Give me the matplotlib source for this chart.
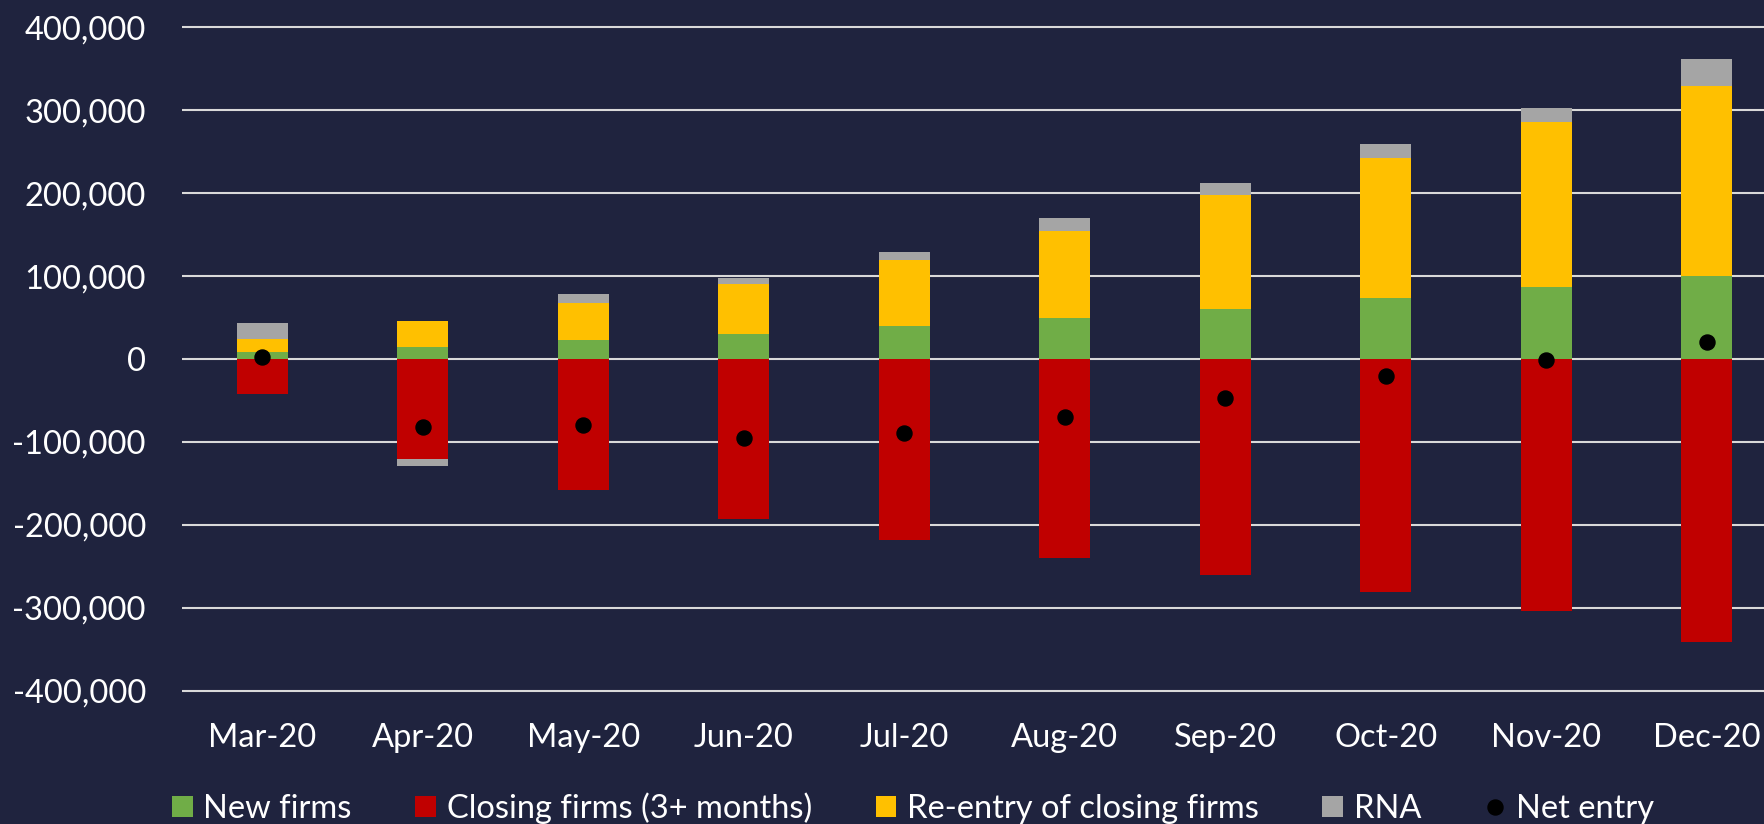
"""Firm entry and exit by month (stacked bars with net-entry dots)."""

import matplotlib
matplotlib.use("Agg")
import matplotlib.pyplot as plt
import numpy as np
from matplotlib.patches import Patch
from matplotlib.lines import Line2D
from matplotlib.ticker import FuncFormatter

months = ["Mar-20", "Apr-20", "May-20", "Jun-20", "Jul-20",
          "Aug-20", "Sep-20", "Oct-20", "Nov-20", "Dec-20"]
new_firms = [9000, 15000, 22500, 30000, 40000, 49000, 60000, 73500, 87000, 100000]
reentry = [15000, 31000, 45500, 61000, 80000, 105500, 137500, 169000, 199000, 229500]
rna = [19000, -7500, 10000, 7000, 9000, 15000, 15000, 17000, 17000, 32000]
closing = [-42000, -121000, -157500, -193000, -218000, -240500, -260500,
           -281000, -304000, -341500]
net_entry = [2000, -81500, -80000, -95000, -89500, -70500, -47500, -21000, -1000, 20500]

BG = "#1F233E"
GREEN, RED, YELLOW, GREY = "#70AD47", "#C00000", "#FFC000", "#A5A5A5"
FS = 23.5

plt.rcParams["font.family"] = ["Lato", "DejaVu Sans"]

fig = plt.figure(figsize=(17.65, 8.24), dpi=100, facecolor=BG)
ax = fig.add_axes([182 / 1765, 0.1568, 1 - 182 / 1765, 0.9718 - 0.1568])
ax.set_facecolor(BG)

x = np.arange(len(months))
w = 0.316
new = np.array(new_firms)
re = np.array(reentry)
r = np.array(rna)
cl = np.array(closing)

ax.bar(x, new, w, color=GREEN, zorder=2)
ax.bar(x, re, w, bottom=new, color=YELLOW, zorder=2)
rna_bottom = np.where(r >= 0, new + re, cl)
ax.bar(x, r, w, bottom=rna_bottom, color=GREY, zorder=2)
ax.bar(x, cl, w, color=RED, zorder=2)
ax.scatter(x, net_entry, s=117, color="black", zorder=3)

ax.set_xlim(-0.5, 9.363)
ax.set_ylim(-405000, 405000)
ax.set_yticks(np.arange(-400000, 400001, 100000))
ax.yaxis.set_major_formatter(FuncFormatter(lambda v, _: f"{int(v):,}"))
ax.set_xticks(x)
ax.set_xticklabels(months)
ax.tick_params(axis="y", length=0, pad=26, labelsize=FS, labelcolor="white")
ax.tick_params(axis="x", length=0, pad=20, labelsize=FS, labelcolor="white")
ax.grid(axis="y", color="#D9D9D9", lw=1.5, zorder=0)
ax.set_axisbelow(True)
for s in ax.spines.values():
    s.set_visible(False)

handles = [
    Patch(facecolor=GREEN, label="New firms"),
    Patch(facecolor=RED, label="Closing firms (3+ months)"),
    Patch(facecolor=YELLOW, label="Re-entry of closing firms"),
    Patch(facecolor=GREY, label="RNA"),
    Line2D([], [], marker="o", ls="none", color="black", markersize=10.8,
           label="Net entry"),
]
fig.legend(handles=handles, loc="center left", bbox_to_anchor=(172 / 1765, 1 - 808 / 824),
           ncol=5, frameon=False, fontsize=FS, labelcolor="white",
           handlelength=0.64, handleheight=0.64, handletextpad=0.32,
           columnspacing=1.95, borderpad=0, borderaxespad=0)

fig.savefig("out.png", dpi=100, facecolor=BG)
